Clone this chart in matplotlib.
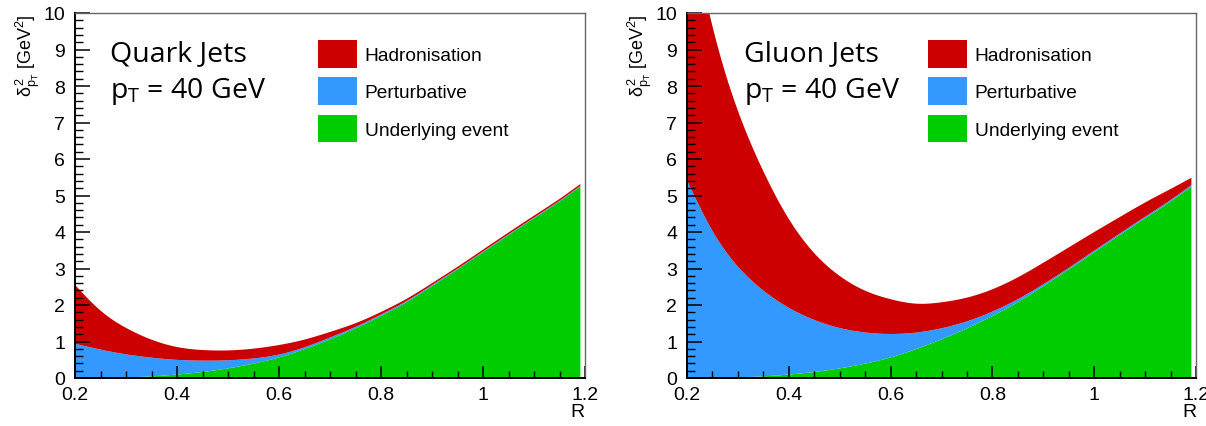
import numpy as np
import matplotlib
matplotlib.use("Agg")
import matplotlib.pyplot as plt
from matplotlib.ticker import MultipleLocator

# jet radius grid
R = np.array([0.20, 0.25, 0.30, 0.35, 0.40, 0.45, 0.50, 0.55, 0.60, 0.65, 0.70,
              0.75, 0.80, 0.85, 0.90, 0.95, 1.00, 1.05, 1.10, 1.15, 1.19])

# underlying event, same for quark and gluon jets [GeV^2]
ue = np.array([0.00, 0.01, 0.03, 0.06, 0.11, 0.18, 0.28, 0.41, 0.58, 0.81, 1.08,
               1.38, 1.72, 2.10, 2.54, 3.00, 3.47, 3.94, 4.40, 4.86, 5.26])

# quark jets
quark_pert = np.array([0.95, 0.78, 0.63, 0.51, 0.40, 0.31, 0.22, 0.14, 0.08, 0.05, 0.05,
                       0.04, 0.04, 0.03, 0.03, 0.02, 0.02, 0.02, 0.02, 0.02, 0.02])
quark_had = np.array([1.60, 1.06, 0.72, 0.49, 0.35, 0.29, 0.27, 0.27, 0.26, 0.21, 0.15,
                      0.10, 0.07, 0.06, 0.05, 0.05, 0.05, 0.05, 0.05, 0.05, 0.05])

# gluon jets
gluon_pert = np.array([5.40, 4.01, 3.02, 2.34, 1.82, 1.42, 1.10, 0.85, 0.64, 0.45, 0.30,
                       0.19, 0.12, 0.08, 0.05, 0.04, 0.04, 0.04, 0.04, 0.04, 0.04])
gluon_had = np.array([7.40, 5.58, 4.25, 3.25, 2.42, 1.82, 1.42, 1.14, 0.95, 0.79, 0.71,
                      0.65, 0.61, 0.60, 0.59, 0.56, 0.51, 0.45, 0.39, 0.30, 0.20])

x_ticks = [0.2, 0.4, 0.6, 0.8, 1.0, 1.2]
x_ticklabels = ['0.2', '0.4', '0.6', '0.8', '1', '1.2']
y_ticks = list(range(0, 11))

RED = '#cc0000'
BLUE = '#3399ff'
GREEN = '#00cc00'

plt.rcParams['font.family'] = ['Liberation Sans', 'DejaVu Sans']
plt.rcParams['mathtext.fontset'] = 'custom'
plt.rcParams['mathtext.rm'] = 'Liberation Sans'
plt.rcParams['mathtext.it'] = 'Liberation Sans'


def spline(x, y, xs):
    # natural cubic spline through the read points, only for a smooth outline
    n = len(x)
    h = np.diff(x)
    A = np.zeros((n, n))
    b = np.zeros(n)
    A[0, 0] = A[-1, -1] = 1.0
    for i in range(1, n - 1):
        A[i, i - 1] = h[i - 1]
        A[i, i] = 2 * (h[i - 1] + h[i])
        A[i, i + 1] = h[i]
        b[i] = 6 * ((y[i + 1] - y[i]) / h[i] - (y[i] - y[i - 1]) / h[i - 1])
    M = np.linalg.solve(A, b)
    idx = np.clip(np.searchsorted(x, xs) - 1, 0, n - 2)
    hi = h[idx]
    t0 = x[idx + 1] - xs
    t1 = xs - x[idx]
    return (M[idx] * t0**3 / (6 * hi) + M[idx + 1] * t1**3 / (6 * hi)
            + (y[idx] / hi - M[idx] * hi / 6) * t0
            + (y[idx + 1] / hi - M[idx + 1] * hi / 6) * t1)


def draw_panel(ax, pert, had, title, text_x, leg_x):
    rs = np.linspace(R[0], R[-1], 500)
    ue_s = np.maximum(spline(R, ue, rs), 0)
    pert_s = np.maximum(spline(R, ue + pert, rs), ue_s)
    had_s = np.maximum(spline(R, ue + pert + had, rs), pert_s)
    h_ue = ax.fill_between(rs, 0, ue_s, color=GREEN, lw=0)
    h_pe = ax.fill_between(rs, ue_s, pert_s, color=BLUE, lw=0)
    h_ha = ax.fill_between(rs, pert_s, had_s, color=RED, lw=0)

    ax.set_xlim(0.2, 1.2)
    ax.set_ylim(0, 10)
    ax.set_xticks(x_ticks)
    ax.set_xticklabels(x_ticklabels)
    ax.set_yticks(y_ticks)
    ax.xaxis.set_minor_locator(MultipleLocator(0.05))
    ax.yaxis.set_minor_locator(MultipleLocator(0.2))
    ax.tick_params(axis='both', which='both', direction='in', top=False, right=False,
                   labelsize=14, color='black')
    ax.tick_params(axis='y', which='major', length=11, width=1.1, pad=7)
    ax.tick_params(axis='y', which='minor', length=5.5, width=1.0)
    ax.tick_params(axis='x', which='major', length=9, width=1.1, pad=6)
    ax.tick_params(axis='x', which='minor', length=5, width=1.0)

    for side in ('top', 'right'):
        ax.spines[side].set_color('#666666')
        ax.spines[side].set_linewidth(1.0)
    for side in ('left', 'bottom'):
        ax.spines[side].set_color('black')
        ax.spines[side].set_linewidth(1.4)

    ax.set_xlabel('R', loc='right', fontsize=14, labelpad=0)
    ax.set_ylabel(r'$\delta^{2}_{p_{T}}$ [GeV$^{2}$]', loc='top', fontsize=13, labelpad=1)

    ax.text(text_x, 0.870, title, transform=ax.transAxes, fontsize=20.5,
            family='Open Sans', va='baseline')
    ax.text(text_x, 0.770, r'p$_\mathregular{T}$ = 40 GeV', transform=ax.transAxes,
            fontsize=20.5, family='Open Sans', va='baseline')

    ax.legend([h_ha, h_pe, h_ue], ['Hadronisation', 'Perturbative', 'Underlying event'],
              loc='upper left', bbox_to_anchor=(leg_x, 0.926), frameon=False,
              fontsize=13.8, borderpad=0, handlelength=2.03, handleheight=1.85,
              labelspacing=0.5, handletextpad=0.42, borderaxespad=0)


fig = plt.figure(figsize=(12.06, 4.27), dpi=100)
ax1 = fig.add_axes([75 / 1206, 48 / 427, 510 / 1206, 365 / 427])
ax2 = fig.add_axes([687 / 1206, 48 / 427, 509 / 1206, 365 / 427])

draw_panel(ax1, quark_pert, quark_had, 'Quark Jets', 0.069, 0.476)
draw_panel(ax2, gluon_pert, gluon_had, 'Gluon Jets', 0.112, 0.473)

fig.savefig('out.png', dpi=100)
